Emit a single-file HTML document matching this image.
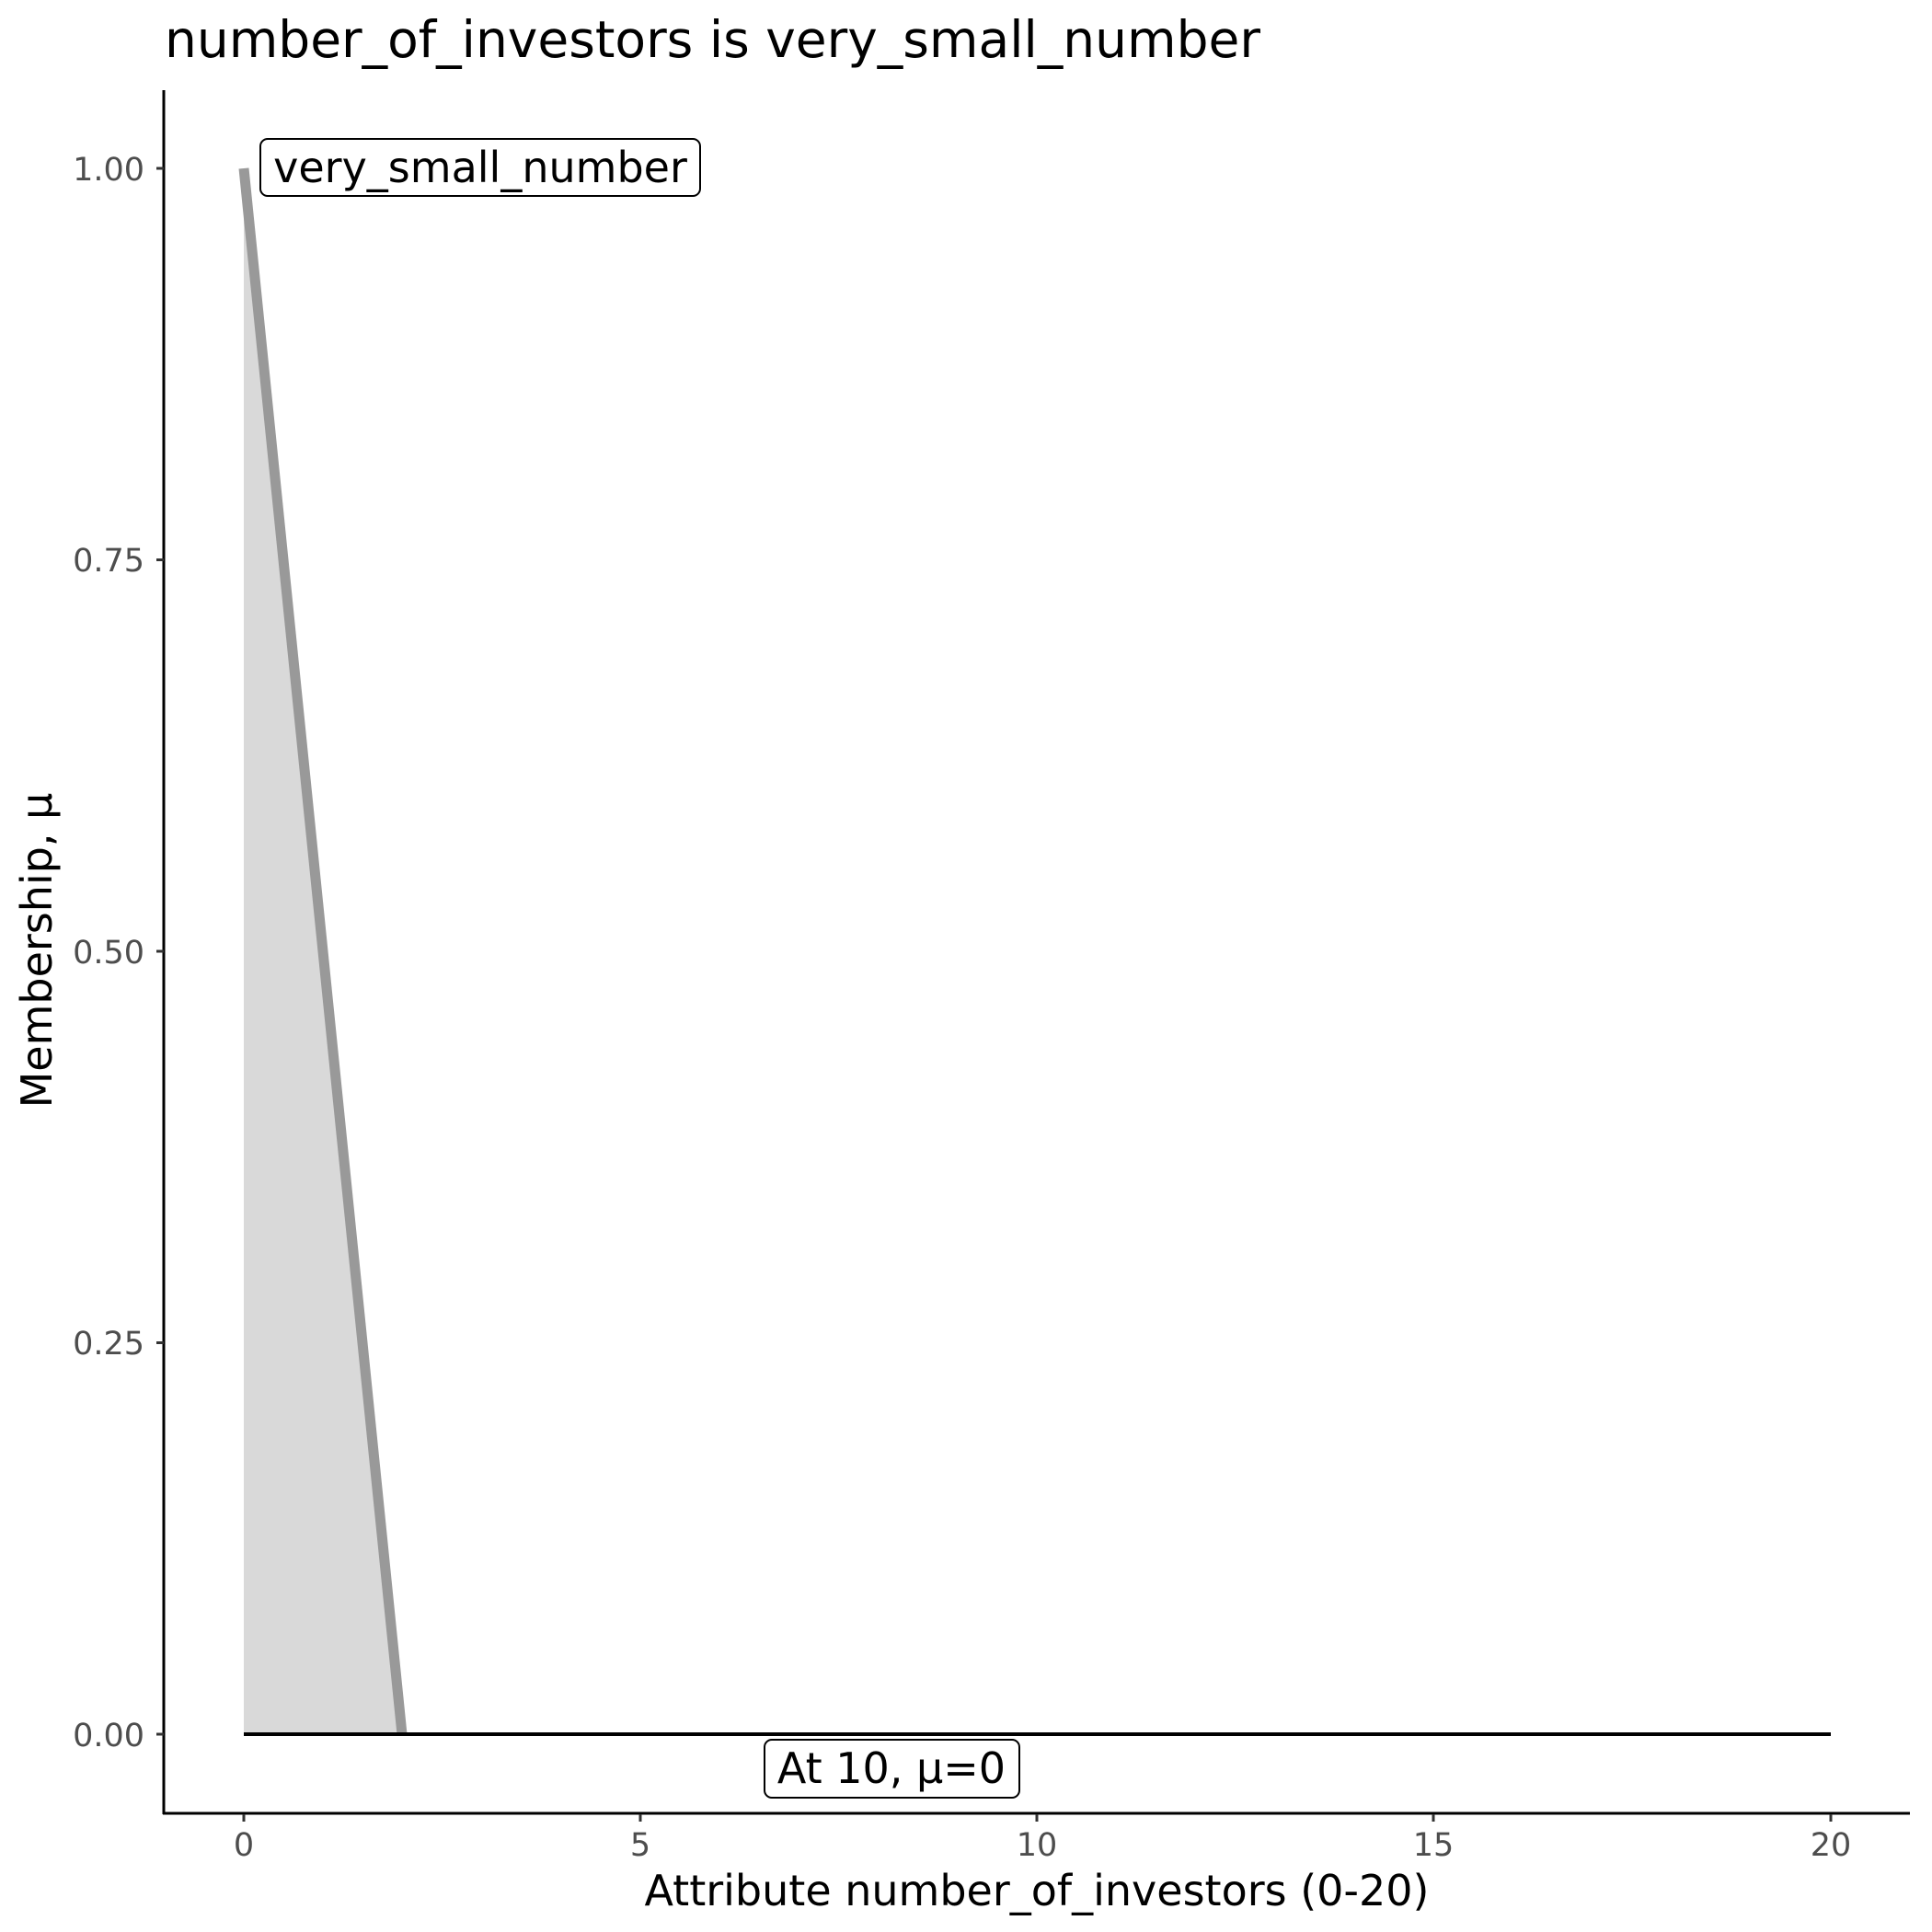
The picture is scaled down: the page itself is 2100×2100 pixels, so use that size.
<!DOCTYPE html>
<html><head><meta charset="utf-8"><style>
html,body{margin:0;padding:0;background:#fff;}
svg{display:block;}
text{font-family:"DejaVu Sans","Liberation Sans",sans-serif;}
</style></head><body>
<svg width="2100" height="2100" viewBox="0 0 2100 2100" xmlns="http://www.w3.org/2000/svg">
<rect width="2100" height="2100" fill="#fff"/>
<text x="179" y="62" font-size="55" fill="#000">number_of_investors is very_small_number</text>
<polygon points="265,183 437,1885 265,1885" fill="#D9D9D9"/>
<polyline points="265,183 437,1885" fill="none" stroke="#999999" stroke-width="11"/>
<line x1="265" y1="1885" x2="1990" y2="1885" stroke="#000" stroke-width="4"/>
<line x1="178" y1="98" x2="178" y2="1972" stroke="#000" stroke-width="3"/>
<line x1="177" y1="1971" x2="2076" y2="1971" stroke="#000" stroke-width="3"/>
<g stroke="#333" stroke-width="3">
<line x1="170" y1="183" x2="178" y2="183"/>
<line x1="170" y1="608.5" x2="178" y2="608.5"/>
<line x1="170" y1="1034" x2="178" y2="1034"/>
<line x1="170" y1="1459.5" x2="178" y2="1459.5"/>
<line x1="170" y1="1885" x2="178" y2="1885"/>
<line x1="265" y1="1972" x2="265" y2="1980"/>
<line x1="696" y1="1972" x2="696" y2="1980"/>
<line x1="1127" y1="1972" x2="1127" y2="1980"/>
<line x1="1558" y1="1972" x2="1558" y2="1980"/>
<line x1="1990" y1="1972" x2="1990" y2="1980"/>
</g>
<g font-size="35" fill="#4D4D4D" text-anchor="end">
<text x="157" y="196">1.00</text>
<text x="157" y="621">0.75</text>
<text x="157" y="1047">0.50</text>
<text x="157" y="1472">0.25</text>
<text x="157" y="1898">0.00</text>
</g>
<g font-size="35" fill="#4D4D4D" text-anchor="middle">
<text x="265" y="2017">0</text>
<text x="696" y="2017">5</text>
<text x="1127" y="2017">10</text>
<text x="1558" y="2017">15</text>
<text x="1990" y="2017">20</text>
</g>
<text x="1127" y="2071" font-size="46" text-anchor="middle" fill="#000">Attribute number_of_investors (0-20)</text>
<text transform="translate(56,1033) rotate(-90)" font-size="46" text-anchor="middle" fill="#000">Membership, μ</text>
<rect x="283" y="151" width="478" height="62" rx="8" fill="#fff" stroke="#000" stroke-width="2"/>
<text x="522" y="198" font-size="46" text-anchor="middle" fill="#000">very_small_number</text>
<rect x="831" y="1891" width="277" height="63" rx="8" fill="#fff" stroke="#000" stroke-width="2"/>
<text x="969" y="1938" font-size="46" text-anchor="middle" fill="#000">At 10, μ=0</text>
</svg>
</body></html>
